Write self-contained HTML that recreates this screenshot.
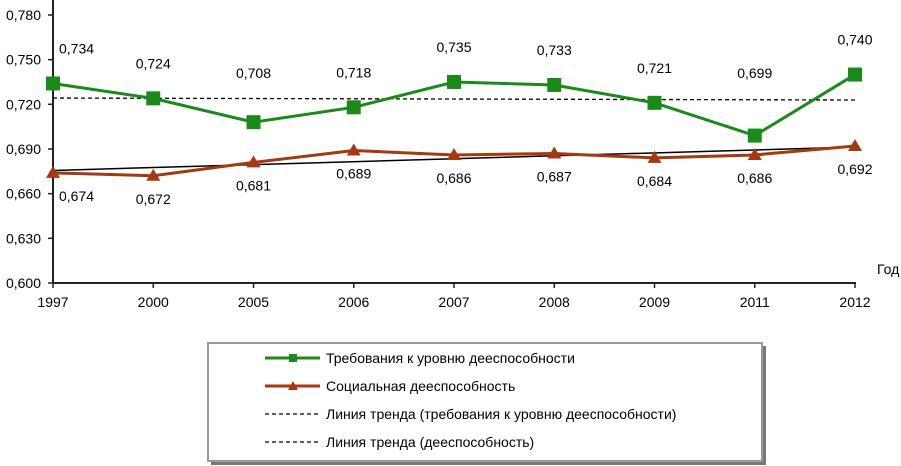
<!DOCTYPE html>
<html><head><meta charset="utf-8"><style>
body{margin:0;background:#fff;}
svg{display:block;font-family:"Liberation Sans",sans-serif;}
</style></head><body>
<svg width="901" height="466" viewBox="0 0 901 466">
<g id="axes"></g><g id="plot"></g>
<g>
<rect x="211" y="346" width="555" height="119" fill="#777"/>
<rect x="208" y="343" width="554" height="118" fill="#fff" stroke="#999" stroke-width="2"/>
<g>
<line x1="265" y1="358" x2="320" y2="358" stroke="#1a8a1a" stroke-width="3"/><rect x="289" y="354" width="8" height="8" fill="#1a8a1a"/>
<text x="326" y="363" font-size="14">Требования к уровню дееспособности</text></g>
<g>
<line x1="265" y1="386" x2="320" y2="386" stroke="#a33a10" stroke-width="3"/><polygon points="293,381 298,390 288,390" fill="#a33a10"/>
<text x="326" y="391" font-size="14">Социальная дееспособность</text></g>
<g>
<line x1="265" y1="414" x2="320" y2="414" stroke="#000" stroke-width="1.3" stroke-dasharray="4,3"/>
<text x="326" y="419" font-size="14">Линия тренда (требования к уровню дееспособности)</text></g>
<g>
<line x1="265" y1="442" x2="320" y2="442" stroke="#000" stroke-width="1.3" stroke-dasharray="4,3"/>
<text x="326" y="447" font-size="14">Линия тренда (дееспособность)</text></g>
</g>
</svg>
<script>
const years=["1997","2000","2005","2006","2007","2008","2009","2011","2012"];
const requirements=[0.734,0.724,0.708,0.718,0.735,0.733,0.721,0.699,0.740];
const social=[0.674,0.672,0.681,0.689,0.686,0.687,0.684,0.686,0.692];
const yTicks=[0.600,0.630,0.660,0.690,0.720,0.750,0.780];
const NS="http://www.w3.org/2000/svg";
const X0=53,DX=100.25,Y0=283,K=1489;
function xs(i){return X0+i*DX;}
function ys(v){return Y0-(v-0.6)*K;}
function mk(t,a,p){const e=document.createElementNS(NS,t);for(const k in a)e.setAttribute(k,a[k]);p.appendChild(e);return e;}
const axes=document.getElementById('axes'),plot=document.getElementById('plot');
let e=mk('line',{x1:X0,y1:0,x2:X0,y2:Y0,stroke:'#222','stroke-width':2},axes);


e=mk('line',{x1:X0,y1:Y0,x2:xs(years.length-1)+1,y2:Y0,stroke:'#222','stroke-width':2},axes);


yTicks.forEach(v=>{const y=ys(v);
 mk('line',{x1:X0-5,y1:y,x2:X0,y2:y,stroke:'#222','stroke-width':1.5},axes);
 const t=mk('text',{x:X0-12,y:y+5,'font-size':14,'text-anchor':'end'},axes);t.textContent=v.toFixed(3).replace('.',',');
 
 });
years.forEach((yr,i)=>{const x=xs(i);
 mk('line',{x1:x,y1:Y0,x2:x,y2:Y0+5,stroke:'#222','stroke-width':1.5},axes);
 const t=mk('text',{x:x,y:Y0+24,'font-size':14,'text-anchor':'middle'},axes);t.textContent=yr;
 
 });
e=mk('text',{x:877,y:274,'font-size':14},axes);e.textContent='Год';


function trend(arr){const n=arr.length;let sx=0,sy=0,sxy=0,sxx=0;arr.forEach((v,i)=>{sx+=i;sy+=v;sxy+=i*v;sxx+=i*i;});const b=(n*sxy-sx*sy)/(n*sxx-sx*sx);const a=(sy-b*sx)/n;return [a,a+b*(n-1)];}
const tr=trend(requirements),ts=trend(social);
e=mk('line',{x1:xs(0),y1:ys(tr[0]),x2:xs(years.length-1),y2:ys(tr[1]),stroke:'#000','stroke-width':1.3,'stroke-dasharray':'4,3'},plot);


e=mk('line',{x1:xs(0),y1:ys(ts[0]),x2:xs(years.length-1),y2:ys(ts[1]),stroke:'#000','stroke-width':1.5},plot);


e=mk('polyline',{points:social.map((v,i)=>xs(i)+','+ys(v)).join(' '),fill:'none',stroke:'#a33a10','stroke-width':3},plot);


social.forEach((v,i)=>{const x=xs(i),y=ys(v);
 const p=mk('polygon',{points:`${x},${y-7} ${x+7},${y+5} ${x-7},${y+5}`,fill:'#a33a10'},plot);
 
 
 const t=mk('text',{x:i==0?x+6:x,y:y+28,'font-size':14,'text-anchor':i==0?'start':'middle'},plot);
 t.textContent=v.toFixed(3).replace('.',',');
 
 });
e=mk('polyline',{points:requirements.map((v,i)=>xs(i)+','+ys(v)).join(' '),fill:'none',stroke:'#1a8a1a','stroke-width':3},plot);


requirements.forEach((v,i)=>{const x=xs(i),y=ys(v);
 const r=mk('rect',{x:x-7,y:y-7,width:14,height:14,fill:'#1a8a1a'},plot);
 
 
 const t=mk('text',{x:i==0?x+6:x,y:Math.min(y-30,78),'font-size':14,'text-anchor':i==0?'start':'middle'},plot);
 t.textContent=v.toFixed(3).replace('.',',');
 
 });
</script>
</body></html>
